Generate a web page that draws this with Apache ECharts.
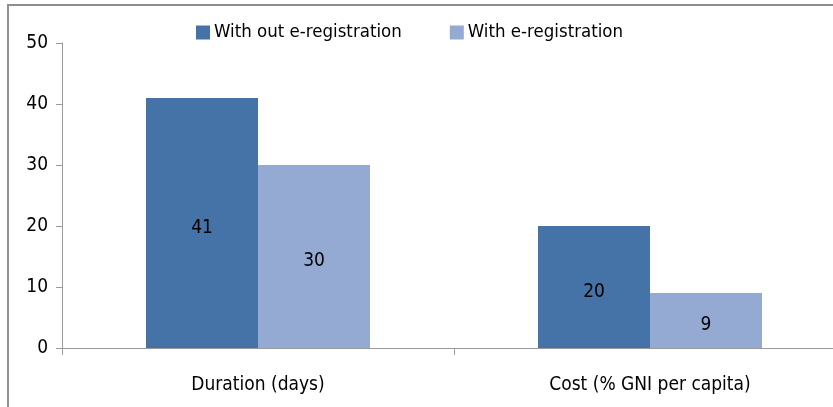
<!DOCTYPE html>
<html>
<head>
<meta charset="utf-8">
<script src="https://cdn.jsdelivr.net/npm/echarts@6/dist/echarts.min.js"></script>
<style>
  html, body { margin: 0; padding: 0; background: #fff; overflow: hidden; width: 833px; height: 407px; }
  #frame { position: absolute; left: 7px; top: 4px; width: 840px; height: 420px;
           border-left: 2px solid #8f8f8f; border-top: 2px solid #8f8f8f; }
  #chart { position: absolute; left: 0; top: 0; width: 870px; height: 407px; }
</style>
</head>
<body>
<div id="frame"></div>
<div id="chart"></div>
<script>
  // catégories et valeurs
  const categories = ['Duration (days)', 'Cost (% GNI per capita)'];
  const seriesNames = ['With out e-registration', 'With e-registration'];
  const withoutEreg = [41, 20];
  const withEreg = [30, 9];
  const yTicks = { min: 0, max: 50, interval: 10 };

  const COL = { dark: '#4572a7', light: '#94aad2', axis: '#9a9a9a' };
  const FONT = '"DejaVu Sans Condensed", Roboto, sans-serif';

  const chart = echarts.init(document.getElementById('chart'));
  const lbl = { show: true, position: 'inside', offset: [0, 5], color: '#000', fontSize: 19, fontFamily: FONT };

  chart.setOption({
    animation: false,
    legend: {
      data: seriesNames,
      top: 18, left: 191,
      itemWidth: 14, itemHeight: 14, itemGap: 48,
      icon: 'rect',
      textStyle: { fontSize: 18.5, fontFamily: FONT, color: '#000', padding: [0, 0, 0, -1] }
    },
    grid: { left: 62, right: 24, top: 43, bottom: 59 },
    xAxis: {
      type: 'category', data: categories,
      axisLine: { lineStyle: { color: COL.axis } },
      axisTick: { show: true, alignWithLabel: false, length: 7, lineStyle: { color: COL.axis } },
      axisLabel: { fontSize: 19, fontFamily: FONT, color: '#000', margin: 28 }
    },
    yAxis: {
      type: 'value', min: yTicks.min, max: yTicks.max, interval: yTicks.interval,
      axisLine: { show: true, lineStyle: { color: COL.axis } },
      axisTick: { show: true, length: 6, lineStyle: { color: COL.axis } },
      splitLine: { show: false },
      axisLabel: { fontSize: 19, fontFamily: FONT, color: '#000', margin: 14 }
    },
    series: [
      { name: seriesNames[0], type: 'bar', data: withoutEreg, barWidth: 112, barGap: '0%',
        itemStyle: { color: COL.dark }, label: lbl },
      { name: seriesNames[1], type: 'bar', data: withEreg, barWidth: 112,
        itemStyle: { color: COL.light }, label: lbl }
    ]
  });
</script>
</body>
</html>
